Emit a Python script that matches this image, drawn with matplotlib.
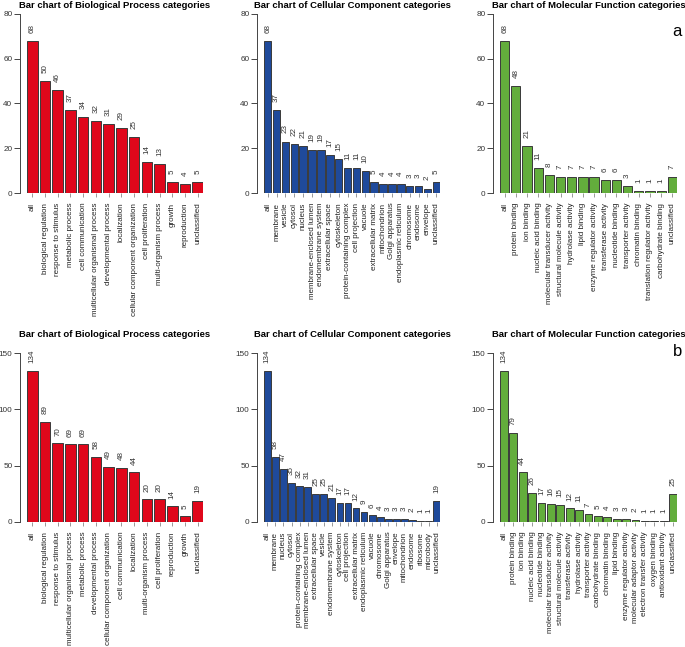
import matplotlib
matplotlib.use("Agg")
import matplotlib.pyplot as plt

plt.rcParams['font.family'] = ['Liberation Sans', 'DejaVu Sans']

# ---- data (panel a) ----
bp_a_cats = ["all", "biological regulation", "response to stimulus", "metabolic process",
             "cell communication", "multicellular organismal process", "developmental process",
             "localization", "cellular component organization", "cell proliferation",
             "multi-organism process", "growth", "reproduction", "unclassified"]
bp_a_vals = [68, 50, 46, 37, 34, 32, 31, 29, 25, 14, 13, 5, 4, 5]

cc_a_cats = ["all", "membrane", "vesicle", "cytosol", "nucleus", "membrane-enclosed lumen",
             "endomembrane system", "extracellular space", "cytoskeleton",
             "protein-containing complex", "cell projection", "vacuole", "extracellular matrix",
             "mitochondrion", "Golgi apparatus", "endoplasmic reticulum", "chromosome",
             "endosome", "envelope", "unclassified"]
cc_a_vals = [68, 37, 23, 22, 21, 19, 19, 17, 15, 11, 11, 10, 5, 4, 4, 4, 3, 3, 2, 5]

mf_a_cats = ["all", "protein binding", "ion binding", "nucleic acid binding",
             "molecular transducer activity", "structural molecule activity", "hydrolase activity",
             "lipid binding", "enzyme regulator activity", "transferase activity",
             "nucleotide binding", "transporter activity", "chromatin binding",
             "translation regulator activity", "carbohydrate binding", "unclassified"]
mf_a_vals = [68, 48, 21, 11, 8, 7, 7, 7, 7, 6, 6, 3, 1, 1, 1, 7]

# ---- data (panel b) ----
bp_b_cats = ["all", "biological regulation", "response to stimulus",
             "multicellular organismal process", "metabolic process", "developmental process",
             "cellular component organization", "cell communication", "localization",
             "multi-organism process", "cell proliferation", "reproduction", "growth",
             "unclassified"]
bp_b_vals = [134, 89, 70, 69, 69, 58, 49, 48, 44, 20, 20, 14, 5, 19]

cc_b_cats = ["all", "membrane", "nucleus", "cytosol", "protein-containing complex",
             "membrane-enclosed lumen", "extracellular space", "vesicle", "endomembrane system",
             "cytoskeleton", "cell projection", "extracellular matrix", "endoplasmic reticulum",
             "vacuole", "chromosome", "Golgi apparatus", "envelope", "mitochondrion",
             "endosome", "ribosome", "microbody", "unclassified"]
cc_b_vals = [134, 58, 47, 35, 32, 31, 25, 25, 21, 17, 17, 12, 9, 6, 4, 3, 3, 3, 2, 1, 1, 19]

mf_b_cats = ["all", "protein binding", "ion binding", "nucleic acid binding",
             "nucleotide binding", "molecular transducer activity", "structural molecule activity",
             "transferase activity", "hydrolase activity", "transporter activity",
             "carbohydrate binding", "chromatin binding", "lipid binding",
             "enzyme regulator activity", "molecular adaptor activity",
             "electron transfer activity", "oxygen binding", "antioxidant activity",
             "unclassified"]
mf_b_vals = [134, 79, 44, 26, 17, 16, 15, 12, 11, 7, 5, 4, 3, 3, 2, 1, 1, 1, 25]

RED = "#E0071B"
BLUE = "#1F4A9B"
GREEN = "#63AD3C"

W, H = 685, 647
fig = plt.figure(figsize=(W / 100, H / 100), dpi=100)


def panel(x0, x1, ytop, ybot, cats, vals, color, ymax, yticks, title, title_x, title_y):
	ax = fig.add_axes([x0 / W, (H - ybot) / H, (x1 - x0) / W, (ybot - ytop) / H])
	n = len(vals)
	bw = 1 / 1.2
	ax.bar(range(n), vals, width=bw, color=color, edgecolor="#3a3a3a", linewidth=0.7)
	ax.set_xlim(-bw / 2, n - 1 + bw / 2)
	ax.set_ylim(0, ymax)
	for s in ["top", "right", "bottom"]:
		ax.spines[s].set_visible(False)
	ax.spines["left"].set_position(("outward", 5))
	ax.spines["left"].set_bounds(0, ymax)
	ax.spines["left"].set_color("#444444")
	ax.spines["left"].set_linewidth(0.7)
	ax.set_yticks(yticks)
	ax.tick_params(axis="y", labelsize=5.9, length=4, width=0.7, color="#444444",
	               labelcolor="#333333", pad=1.5)
	ax.set_xticks(range(n))
	ax.set_xticklabels(cats, rotation=90, fontsize=5.75, color="#222222")
	ax.tick_params(axis="x", length=3, width=0.6, color="#888888", pad=4)
	off = ymax * 0.045
	for i, v in enumerate(vals):
		ax.text(i, v + off, str(v), rotation=90, ha="center", va="bottom",
		        fontsize=5.75, color="#333333", clip_on=False)
	fig.text(title_x / W, 1 - title_y / H, title, ha="center", va="center",
	         fontsize=6.8, fontweight="bold")
	return ax


BPT = "Bar chart of Biological Process categories"
CCT = "Bar chart of Cellular Component categories"
MFT = "Bar chart of Molecular Function categories"

# top row (a)
panel(27, 203, 14, 193, bp_a_cats, bp_a_vals, RED, 80, [0, 20, 40, 60, 80], BPT, 115, 5)
panel(264, 440, 14, 193, cc_a_cats, cc_a_vals, BLUE, 80, [0, 20, 40, 60, 80], CCT, 352, 5)
panel(500, 677, 14, 193, mf_a_cats, mf_a_vals, GREEN, 80, [0, 20, 40, 60, 80], MFT, 589, 5)

# bottom row (b)
panel(27, 203, 353, 522, bp_b_cats, bp_b_vals, RED, 150, [0, 50, 100, 150], BPT, 115, 334)
panel(264, 440, 353, 522, cc_b_cats, cc_b_vals, BLUE, 150, [0, 50, 100, 150], CCT, 352, 334)
panel(500, 677, 353, 522, mf_b_cats, mf_b_vals, GREEN, 150, [0, 50, 100, 150], MFT, 589, 334)

fig.text(677 / W, 1 - 31 / H, "a", ha="center", va="center", fontsize=12)
fig.text(678 / W, 1 - 352 / H, "b", ha="center", va="center", fontsize=12)

fig.savefig("out.png", dpi=100)
